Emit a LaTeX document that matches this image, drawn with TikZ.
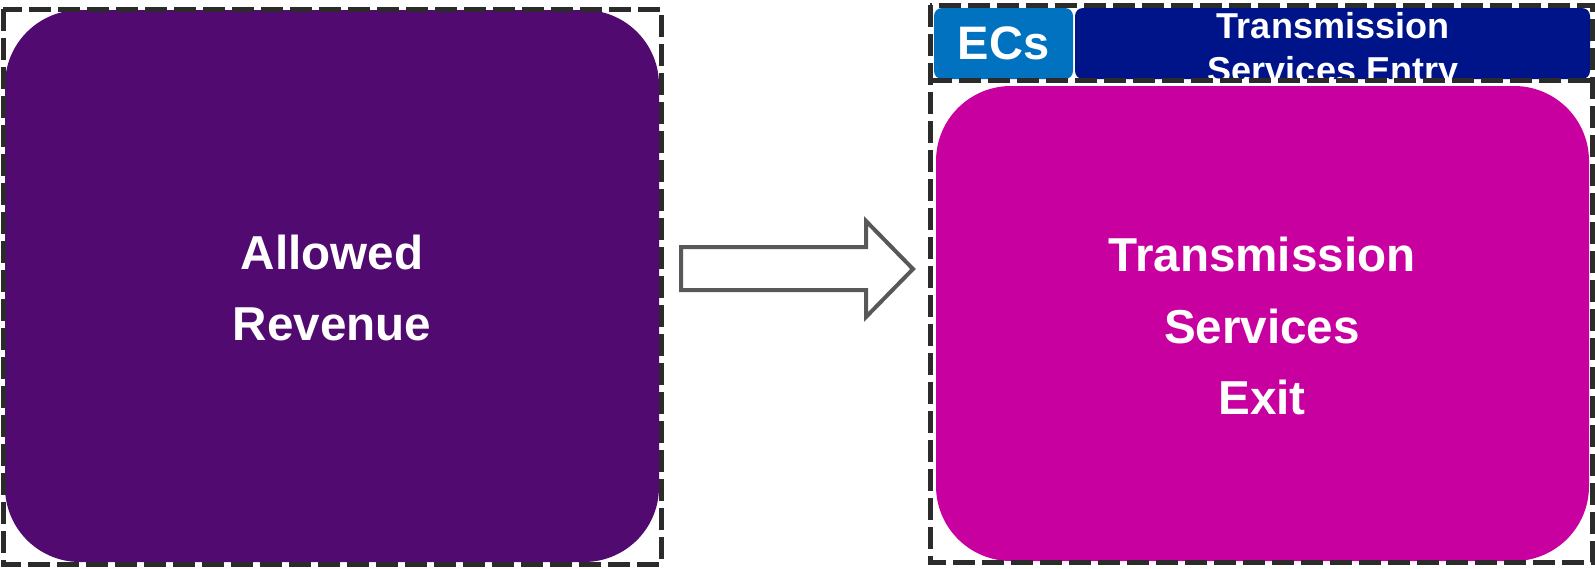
\documentclass[tikz,border=0pt]{standalone}
\usepackage{fontspec}
\setmainfont{Liberation Sans}
\definecolor{revpurple}{HTML}{500A70}
\definecolor{exitmagenta}{HTML}{C800A0}
\definecolor{ecblue}{HTML}{0072C0}
\definecolor{entrynavy}{HTML}{001489}
\definecolor{dashgrey}{HTML}{2B2B2B}
\definecolor{arrowgrey}{HTML}{58585A}
\begin{document}
\begin{tikzpicture}[x=0.5pt,y=-0.5pt,
  bigbox/.style={rectangle, rounded corners=37.5pt, inner sep=0pt, draw=none},
  tab/.style={rectangle, rounded corners=4pt, inner sep=0pt, draw=none},
  bigtext/.style={text=white, font=\bfseries\fontsize{23.8}{35.6}\selectfont, align=center},
  tabtext/.style={text=white, font=\bfseries\fontsize{18}{22}\selectfont, align=center},
  groupline/.style={draw=dashgrey, line width=2.5pt, dash pattern=on 11pt off 3.5pt}]
\useasboundingbox (0,0) rectangle (1595,568);
% left block: allowed revenue
\node[bigbox, fill=revpurple, minimum width=327pt, minimum height=276pt] (rev) at (332,286) {};
\node[bigtext] (revtxt) at (332,288) {Allowed\\Revenue};
% right block: exit services and header tabs
\node[bigbox, fill=exitmagenta, minimum width=326.5pt, minimum height=237.5pt] (exit) at (1262.5,323.5) {};
\node[bigtext] (exittxt) at (1262,326) {Transmission\\Services\\Exit};
\node[tab, fill=ecblue, minimum width=69.5pt, minimum height=35.5pt] (ecs) at (1003.5,43.5) {};
\node[text=white, font=\bfseries\fontsize{23.5}{28}\selectfont] (ecstxt) at (ecs.center) {ECs};
\node[tab, fill=entrynavy, minimum width=257.5pt, minimum height=35.5pt] (entry) at (1332.5,43.5) {};
\begin{scope}
  \clip (entry.south west) rectangle (entry.north east);
  \node[tabtext] (entrytxt) at (1333,51) {Transmission\\Services Entry};
\end{scope}
% dashed group outlines
\draw[groupline] (3,9) rectangle (661,564);
\draw[groupline] (930,5) rectangle (1592,562);
\draw[groupline] (930,80) -- (1592,80);
% block arrow between the groups
\draw[draw=arrowgrey, fill=white, line width=2pt, line join=miter]
  (681,247) -- (866,247) -- (866,221) -- (913,269) -- (866,317) -- (866,290) -- (681,290) -- cycle;
\end{tikzpicture}
\end{document}
